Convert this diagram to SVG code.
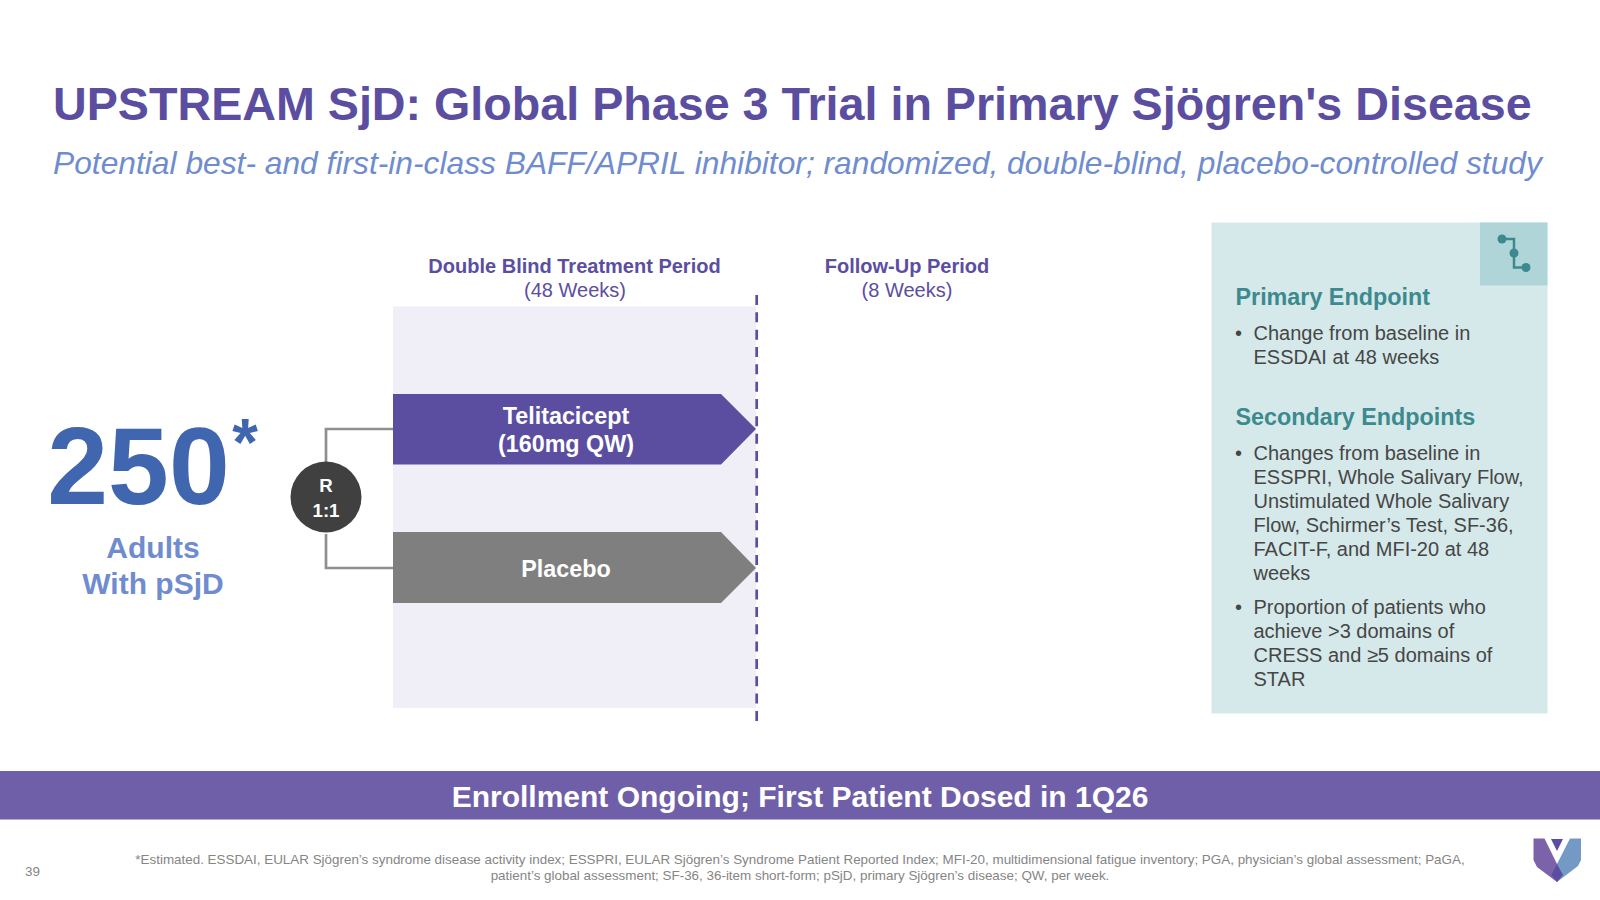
<svg xmlns="http://www.w3.org/2000/svg" width="1600" height="900" viewBox="0 0 1600 900">
<style>
text{font-family:"Liberation Sans",Arial,sans-serif}
.b{font-weight:700}
.m{text-anchor:middle}
.pur{fill:#5b4ea1}
.w{fill:#fff}
.body{font-size:20px;fill:#464646}
.teal{font-size:23.33px;font-weight:700;fill:#3c8a8e}
.foot{font-size:13.42px;fill:#858585}
.hdr{font-size:20px;fill:#5b4ea1}
</style>
<rect width="1600" height="900" fill="#fff"/>
<text id="title" x="53" y="119.500" class="b pur" font-size="46.67">UPSTREAM SjD: Global Phase 3 Trial in Primary Sjögren's Disease</text>
<text id="subtitle" x="53" y="174" font-size="31.75" font-style="italic" fill="#6f8ccf">Potential best- and first-in-class BAFF/APRIL inhibitor; randomized, double-blind, placebo-controlled study</text>
<g id="count">
<text x="138.500" y="504" class="b m" font-size="109.300" fill="#4066b0">250</text>
<text x="245" y="465" class="b m" font-size="66" fill="#4066b0">*</text>
<text x="153" y="558" class="b m" font-size="30" fill="#6f8ccf">Adults</text>
<text x="153" y="594" class="b m" font-size="30" fill="#6f8ccf">With pSjD</text>
</g>
<g id="period-band"><rect x="393" y="306.500" width="363" height="401.500" fill="#f0eff8"/></g>
<g id="connectors" fill="none">
<path d="M326 462V429H393M326 534V568H393" stroke="#8f8f8f" stroke-width="2.700"/>
<path d="M756.700 295V721.500" stroke="#5b4ea1" stroke-width="2.700" stroke-dasharray="10 7.330"/>
</g>
<g id="randomization">
<circle cx="326" cy="497" r="35.500" fill="#404040"/>
<text x="326" y="492" class="b m w" font-size="18.670">R</text>
<text x="326" y="516.500" class="b m w" font-size="18.670">1:1</text>
</g>
<g id="arm-telitacicept">
<polygon points="393,394 721,394 756,429 721,464.500 393,464.500" fill="#5b4ea1"/>
<text x="566" y="423.500" class="b m w" font-size="23.330">Telitacicept</text>
<text x="566" y="452" class="b m w" font-size="23.330">(160mg QW)</text>
</g>
<g id="arm-placebo">
<polygon points="393,532 721,532 756,568 721,603 393,603" fill="#7f7f7f"/>
<text x="566" y="576.500" class="b m w" font-size="23.330">Placebo</text>
</g>
<g id="header-treatment">
<text x="574.500" y="272.500" class="b m hdr">Double Blind Treatment Period</text>
<text x="575" y="297" class="m hdr">(48 Weeks)</text>
</g>
<g id="header-followup">
<text x="907" y="272.500" class="b m hdr">Follow-Up Period</text>
<text x="907" y="297" class="m hdr">(8 Weeks)</text>
</g>
<g id="endpoints">
<rect x="1211.500" y="222.500" width="336" height="491" fill="#d5e9ea"/>
<rect x="1480" y="222.500" width="67.500" height="63" fill="#b0d5d8"/>
<path d="M1502 239H1514V267.500H1526" fill="none" stroke="#3c8a8e" stroke-width="2.500"/>
<circle cx="1502" cy="239" r="4.500" fill="#3c8a8e"/><circle cx="1514" cy="253" r="4.500" fill="#3c8a8e"/><circle cx="1526" cy="267.500" r="4.500" fill="#3c8a8e"/>
<text x="1235.500" y="305" class="teal">Primary Endpoint</text>
<text x="1235" y="340" class="body">•</text>
<text x="1253.500" y="340" class="body">Change from baseline in</text>
<text x="1253.500" y="364" class="body">ESSDAI at 48 weeks</text>
<text x="1235.500" y="425" class="teal">Secondary Endpoints</text>
<text x="1235" y="460" class="body">•</text>
<text x="1253.500" y="460" class="body">Changes from baseline in</text>
<text x="1253.500" y="484" class="body">ESSPRI, Whole Salivary Flow,</text>
<text x="1253.500" y="508" class="body">Unstimulated Whole Salivary</text>
<text x="1253.500" y="532" class="body">Flow, Schirmer’s Test, SF-36,</text>
<text x="1253.500" y="556" class="body">FACIT-F, and MFI-20 at 48</text>
<text x="1253.500" y="580" class="body">weeks</text>
<text x="1235" y="614" class="body">•</text>
<text x="1253.500" y="614" class="body">Proportion of patients who</text>
<text x="1253.500" y="638" class="body">achieve &gt;3 domains of</text>
<text x="1253.500" y="662" class="body">CRESS and ≥5 domains of</text>
<text x="1253.500" y="686" class="body">STAR</text>
</g>
<g id="banner">
<rect x="0" y="771" width="1600" height="48.500" fill="#6f5fa8"/>
<text x="800" y="807" class="b m w" font-size="30">Enrollment Ongoing; First Patient Dosed in 1Q26</text>
</g>
<g id="footer">
<text x="25" y="876" class="foot">39</text>
<text x="800" y="864" class="foot m">*Estimated. ESSDAI, EULAR Sjögren’s syndrome disease activity index; ESSPRI, EULAR Sjögren’s Syndrome Patient Reported Index; MFI-20, multidimensional fatigue inventory; PGA, physician’s global assessment; PaGA,</text>
<text x="800" y="880" class="foot m">patient’s global assessment; SF-36, 36-item short-form; pSjD, primary Sjögren’s disease; QW, per week.</text>
</g>
<g id="logo">
<polygon points="1533.500,838.500 1544.500,838.500 1557,864 1557,882 1537,867 1533.500,860" fill="#7c62a8"/>
<polygon points="1581,838.500 1570,838.500 1557,864 1557,882 1578,866 1581,860" fill="#7499c5"/>
<polygon points="1551,839 1563,839 1557,851" fill="#5b4ea1"/>
<polygon points="1557,864 1551.500,875 1557,882 1563,875" fill="#5b4ea1"/>
</g>
</svg>
